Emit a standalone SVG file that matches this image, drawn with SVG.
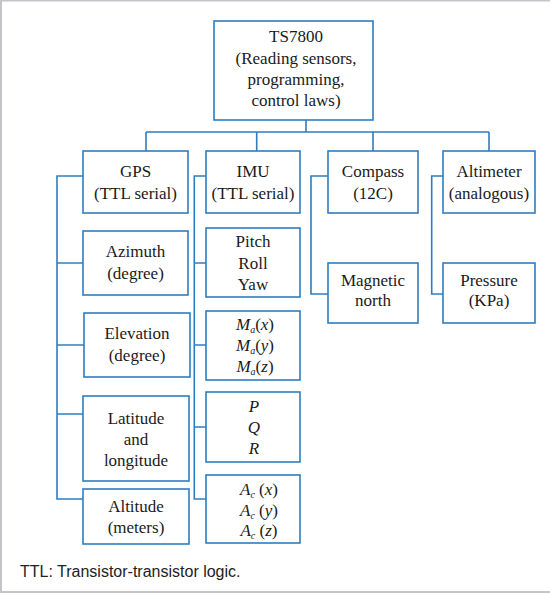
<svg xmlns="http://www.w3.org/2000/svg" width="550" height="593" viewBox="0 0 550 593">
<style>
.box{fill:#fff;stroke:#2f7dbf;stroke-width:1.6}
.ln{fill:none;stroke:#2f7dbf;stroke-width:1.6}
text{font-family:"Liberation Serif","Times New Roman",serif;font-size:17px;fill:#1a1a1a;text-anchor:middle}
.it{font-style:italic}
.sub{font-style:italic;font-size:10px}
.foot{font-family:"Liberation Sans",Arial,sans-serif;font-size:16px;text-anchor:start;fill:#222}
</style>
<rect x="0" y="0" width="550" height="593" fill="#fff"/>
<path d="M1,593 V0.6 H550 M0,592 H550" fill="none" stroke="#c4c4c8" stroke-width="2"/>

<g id="connectors">
<path class="ln" d="M306,120 V132 M146,132 H489 M146,132 V151 M256.7,132 V151 M373,132 V151 M489,132 V151"/>
<path class="ln" d="M83,176 H57 V499 H83 M57,263 H83 M57,345 H84 M57,414 H83"/>
<path class="ln" d="M206,176 H194.3 V499 H206 M194.3,263 H206 M194.3,345 H206 M194.3,427 H206"/>
<path class="ln" d="M328,176 H311 V294 H328"/>
<path class="ln" d="M443,176 H431.7 V294 H443"/>
</g>

<g id="ts7800">
<rect class="box" x="214" y="21" width="159" height="99"/>
<text x="296" y="42">TS7800</text>
<text x="296" y="63.5">(Reading sensors,</text>
<text x="296" y="85">programming,</text>
<text x="296" y="106">control laws)</text>
</g>

<g id="gps">
<rect class="box" x="83" y="151" width="105" height="62"/>
<text x="135.5" y="177">GPS</text>
<text x="135.5" y="199">(TTL serial)</text>
</g>
<g id="imu">
<rect class="box" x="206" y="151" width="94" height="62"/>
<text x="253" y="177">IMU</text>
<text x="253" y="199">(TTL serial)</text>
</g>
<g id="compass">
<rect class="box" x="328" y="151" width="90" height="62"/>
<text x="373" y="177">Compass</text>
<text x="373" y="199">(12C)</text>
</g>
<g id="altimeter">
<rect class="box" x="443" y="151" width="92" height="62"/>
<text x="489" y="177">Altimeter</text>
<text x="489" y="199">(analogous)</text>
</g>

<g id="azimuth">
<rect class="box" x="83" y="231" width="105" height="64"/>
<text x="135.5" y="257">Azimuth</text>
<text x="135.5" y="279">(degree)</text>
</g>
<g id="elevation">
<rect class="box" x="84" y="313" width="106" height="64"/>
<text x="137" y="339">Elevation</text>
<text x="137" y="361">(degree)</text>
</g>
<g id="latlong">
<rect class="box" x="83" y="396" width="106" height="85"/>
<text x="136" y="424">Latitude</text>
<text x="136" y="445">and</text>
<text x="136" y="466">longitude</text>
</g>
<g id="altitude">
<rect class="box" x="83" y="489" width="106" height="55"/>
<text x="136" y="512">Altitude</text>
<text x="136" y="533">(meters)</text>
</g>

<g id="pry">
<rect class="box" x="206" y="228" width="94" height="69"/>
<text x="253" y="247">Pitch</text>
<text x="253" y="268.5">Roll</text>
<text x="253" y="290">Yaw</text>
</g>
<g id="ma">
<rect class="box" x="206" y="311" width="94" height="69"/>
<text x="255" y="330"><tspan class="it">M</tspan><tspan class="sub" dy="3">a</tspan><tspan dy="-3">(</tspan><tspan class="it">x</tspan>)</text>
<text x="255" y="351"><tspan class="it">M</tspan><tspan class="sub" dy="3">a</tspan><tspan dy="-3">(</tspan><tspan class="it">y</tspan>)</text>
<text x="255" y="371.5"><tspan class="it">M</tspan><tspan class="sub" dy="3">a</tspan><tspan dy="-3">(</tspan><tspan class="it">z</tspan>)</text>
</g>
<g id="pqr">
<rect class="box" x="206" y="392" width="94" height="70"/>
<text class="it" x="254" y="412">P</text>
<text class="it" x="254" y="433">Q</text>
<text class="it" x="254" y="453.5">R</text>
</g>
<g id="ac">
<rect class="box" x="206" y="475" width="94" height="68"/>
<text x="259" y="495"><tspan class="it">A</tspan><tspan class="sub" dy="3">c</tspan><tspan dy="-3"> (</tspan><tspan class="it">x</tspan>)</text>
<text x="259" y="515.5"><tspan class="it">A</tspan><tspan class="sub" dy="3">c</tspan><tspan dy="-3"> (</tspan><tspan class="it">y</tspan>)</text>
<text x="259" y="536"><tspan class="it">A</tspan><tspan class="sub" dy="3">c</tspan><tspan dy="-3"> (</tspan><tspan class="it">z</tspan>)</text>
</g>

<g id="magnetic">
<rect class="box" x="328" y="263" width="90" height="60"/>
<text x="373" y="286">Magnetic</text>
<text x="373" y="306">north</text>
</g>
<g id="pressure">
<rect class="box" x="443" y="263" width="92" height="60"/>
<text x="489" y="286">Pressure</text>
<text x="489" y="306">(KPa)</text>
</g>

<text class="foot" x="20" y="577">TTL: Transistor-transistor logic.</text>
</svg>
